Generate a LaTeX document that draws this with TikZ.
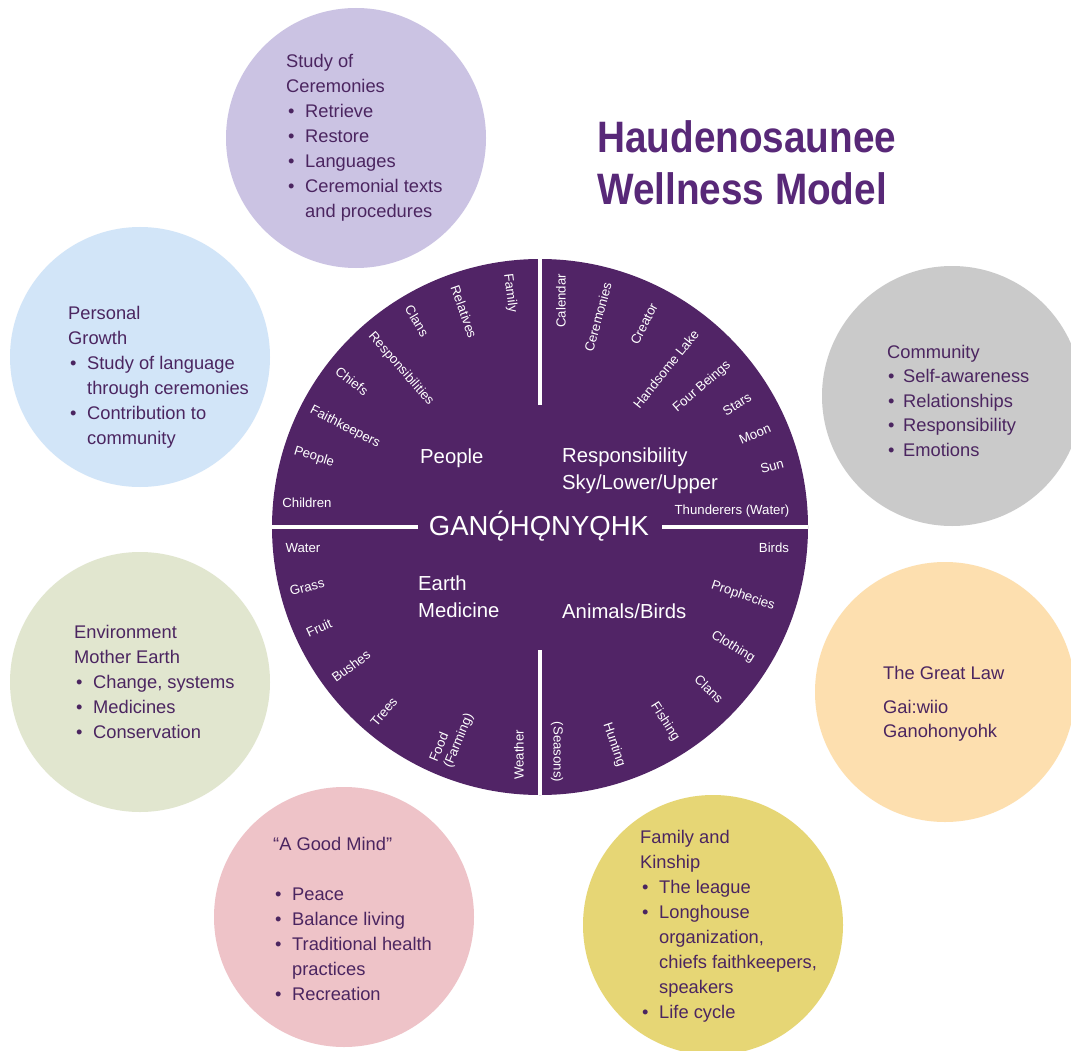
\documentclass[tikz,border=0pt]{standalone}
\usepackage{fontspec}
\setmainfont{Liberation Sans}
\newfontfamily\titlefont{Liberation Sans}[FakeStretch=0.88]
\definecolor{corepurple}{RGB}{81,36,102}
\definecolor{txtpurple}{RGB}{75,37,96}
\definecolor{titlepurple}{RGB}{88,40,120}
\definecolor{cLav}{RGB}{203,195,227}
\definecolor{cBlue}{RGB}{210,229,248}
\definecolor{cGray}{RGB}{202,202,202}
\definecolor{cGreen}{RGB}{225,230,207}
\definecolor{cPeach}{RGB}{253,223,175}
\definecolor{cPink}{RGB}{238,195,200}
\definecolor{cYellow}{RGB}{230,214,117}
\newcommand\bul{\makebox[19pt][l]{\hspace{2pt}•}}
\newcommand\bulc{\makebox[16pt][l]{\hspace{1pt}•}}
\newcommand\ind{\hspace*{19pt}}
\newcommand\circtext[5]{%
  \foreach \t [count=\i] in {#5}
    \node[ctext] (#1-\i) at (#2,{#3+#4*(\i-1)}) {\t};}
\tikzset{
  blob/.style={circle, inner sep=0pt, minimum size=260pt},
  lbl/.style={text=white, font=\fontsize{13.2}{14}\selectfont, inner sep=0pt},
  head/.style={text=white, font=\fontsize{20.3}{26}\selectfont, inner sep=0pt, anchor=base west},
  ctext/.style={text=txtpurple, font=\fontsize{18.3}{25}\selectfont, inner sep=0pt, anchor=base west},
  divider/.style={white, line width=4.5pt},
  ttl/.style={text=titlepurple, font=\titlefont\bfseries\fontsize{44}{50}\selectfont, inner sep=0pt, anchor=base west},
}
\begin{document}
\begin{tikzpicture}[x=1pt,y=-1pt]
\useasboundingbox (0,0) rectangle (1071,1051);
\clip (0,0) rectangle (1071,1051);
\fill[white] (0,0) rectangle (1071,1051);

% outer circles
\node[blob, fill=cLav] (cer) at (356,138) {};
\node[blob, fill=cBlue] (per) at (140,357) {};
\node[blob, fill=cGray] (com) at (952,396) {};
\node[blob, fill=cGreen] (env) at (140,682) {};
\node[blob, fill=cPeach] (law) at (945,692) {};
\node[blob, fill=cPink] (gm) at (344,917) {};
\node[blob, fill=cYellow] (fam) at (713,925) {};

% central circle
\node[circle, fill=corepurple, inner sep=0pt, minimum size=536pt] (core) at (540,527) {};
\coordinate (vt) at (540,405);
\coordinate (vb) at (540,650);
\coordinate (hl) at (418,527);
\coordinate (hr) at (662,527);
\draw[divider] (core.north) -- (vt);
\draw[divider] (core.south) -- (vb);
\draw[divider] (core.west) -- (hl);
\draw[divider] (core.east) -- (hr);

% title
\node[ttl] (t1) at (597,153) {Haudenosaunee};
\node[ttl] (t2) at (597,205) {Wellness Model};

% outer texts
\circtext{cert}{286}{68}{25}{Study of, Ceremonies, \bul Retrieve, \bul Restore, \bul Languages, \bul Ceremonial texts, \ind and procedures}
\circtext{pert}{68}{319}{25}{Personal, Growth, \bul Study of language, \ind through ceremonies, \bul Contribution to, \ind community}
\circtext{comt}{887}{358}{24.5}{Community, \bulc Self-awareness, \bulc Relationships, \bulc Responsibility, \bulc Emotions}
\circtext{envt}{74}{638}{25}{Environment, Mother Earth, {\bul Change, systems}, \bul Medicines, \bul Conservation}
\node[ctext] (lawt-1) at (883,679) {The Great Law};
\node[ctext] (lawt-2) at (883,713) {Gai:wiio};
\node[ctext] (lawt-3) at (883,737) {Ganohonyohk};
\circtext{gmt}{273}{850}{25}{“A Good Mind”, {}, \bul Peace, \bul Balance living, \bul Traditional health, \ind practices, \bul Recreation}
\circtext{famt}{640}{843}{25}{Family and, Kinship, \bul The league, \bul Longhouse, {\ind organization,}, {\ind chiefs faithkeepers,}, \ind speakers, \bul Life cycle}

% quadrant headings
\node[head] (hpeo) at (420,463) {People};
\node[head] (hres) at (562,462) {Responsibility};
\node[head] (hsky) at (562,489) {Sky/Lower/Upper};
\node[head] (hea) at (418,590) {Earth};
\node[head] (hmed) at (418,617) {Medicine};
\node[head] (hani) at (562,618) {Animals/Birds};
\node[text=white, font=\fontsize{27.5}{30}\selectfont, inner sep=0pt, anchor=base] (gano) at (539,535) {GAN^^^^01ea^^^^0301H^^^^01eaNY^^^^01eaHK};

% radial labels
\foreach \x/\y/\r/\t [count=\i] in {510/293/-82.7/Family, 464/312/-70.5/Relatives, 417/321/-59.2/Clans, 401/369/-48.7/Responsibilities, 352/381/-37.8/Chiefs, 345/427/-27.1/Faithkeepers, 314/457/-17.2/People, 307/503/0/Children}
  \node[lbl, rotate=\r] (ul\i) at (\x,\y) {\t};
\foreach \x/\y/\r/\t [count=\i] in {561/301/90/Calendar, 598/317/74.6/Ceremonies, 644/324/62.9/Creator, 666/369/51.4/Handsome Lake, 702/387/40.8/Four Beings, 737/404/32/Stars, 755/434/23.4/Moon, 772/466/14.7/Sun, 732/511/0/Thunderers (Water)}
  \node[lbl, rotate=\r] (ur\i) at (\x,\y) {\t};
\foreach \x/\y/\r/\t [count=\i] in {303/548/0/Water, 307/587/14.4/Grass, 319/628/24.6/Fruit, 351/666/36.3/Bushes, 384/712/49.9/Trees, 519/755/90/Weather}
  \node[lbl, rotate=\r] (ll\i) at (\x,\y) {\t};
\node[lbl, rotate=67.4, align=left, font=\fontsize{13.2}{15}\selectfont] (llfood) at (452,738) {Food\\(Farming)};
\foreach \x/\y/\r/\t [count=\i] in {774/548/0/Birds, 743/596/-18.8/Prophecies, 733/647/-31.9/Clothing, 709/689/-43.8/Clans, 665/722/-57.3/Fishing, 614/745/-71.3/Hunting, 557/752/-90/(Seasons)}
  \node[lbl, rotate=\r] (lr\i) at (\x,\y) {\t};
\end{tikzpicture}
\end{document}
